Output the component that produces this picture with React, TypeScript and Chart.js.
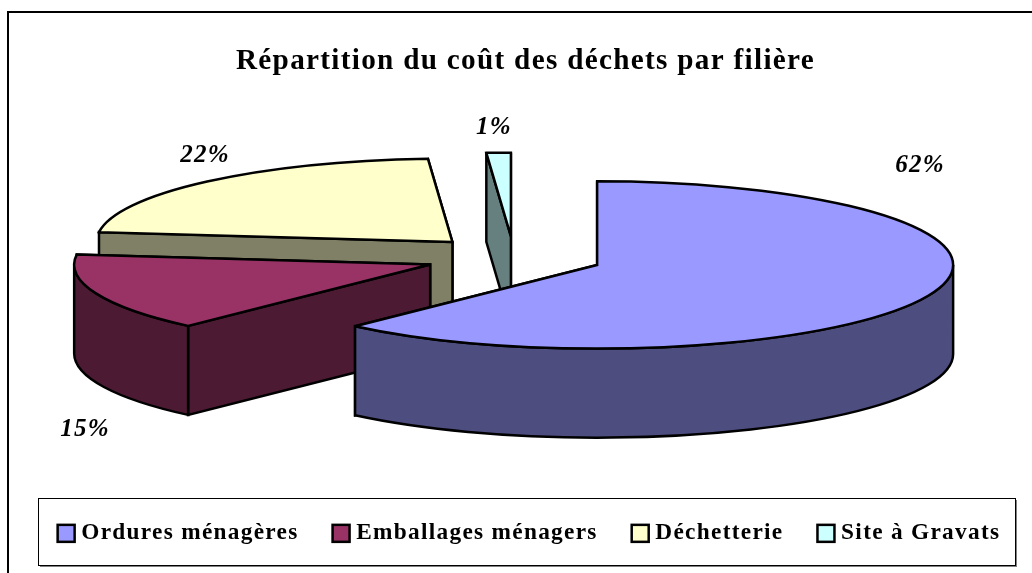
import React, { useEffect, useRef } from "react";
import { Chart, registerables } from "chart.js";

Chart.register(...registerables);

const categories = ["Ordures ménagères", "Emballages ménagers", "Déchetterie", "Site à Gravats"];
const shares = [61.9, 15, 22, 1.1];
const topColours = ["#9999FF", "#993366", "#FFFFCC", "#CCFFFF"];
const wallColours = ["#4D4D80", "#4D1A33", "#808066", "#668080"];
const chartTitle = "Répartition du coût des déchets par filière";

// drawing order, back to front
const paintOrder = [2, 3, 1, 0];
const labelAnchors = [
  { x: 920, y: 166 },
  { x: 85, y: 430 },
  { x: 205, y: 156 },
  { x: 494, y: 128 },
];

const FONT = "'Liberation Serif', 'Times New Roman', serif";
const RADIUS = 356;
const TILT = 0.235;
const DEPTH = 89;
const EXPLODE = 89.3;
const PIE_X = 514;
const PIE_Y = 257.3;
const TITLE_SHIFT = 9.5;
const LEGEND_SHIFT = 13;
const LEGEND_LIFT = 18;
const SWATCH = 17;
const TEXT_SPACING = "1.3px";
const LINE = 2.5;

const pie3d = {
  id: "pie3d",
  beforeLayout(chart: any) {
    chart.ctx.letterSpacing = TEXT_SPACING;
  },
  afterLayout(chart: any) {
    const t = chart.titleBlock;
    t.left += TITLE_SHIFT;
    t.right += TITLE_SHIFT;
    const l = chart.legend;
    l.left += LEGEND_SHIFT;
    l.right += LEGEND_SHIFT;
    l.top -= LEGEND_LIFT;
    l.bottom -= LEGEND_LIFT;
  },
  beforeDraw(chart: any) {
    const { ctx } = chart;
    ctx.save();
    ctx.strokeStyle = "#000";
    ctx.lineWidth = 2;
    ctx.strokeRect(8, 12, 3000, 3000);

    // legend frame with its thin shadow
    ctx.fillStyle = "#808080";
    ctx.fillRect(40, 500, 977, 67);
    ctx.fillStyle = "#fff";
    ctx.strokeStyle = "#000";
    ctx.lineWidth = 1;
    ctx.fillRect(38.5, 498.5, 977, 67);
    ctx.strokeRect(38.5, 498.5, 977, 67);
    ctx.restore();
    ctx.letterSpacing = TEXT_SPACING;
  },
  beforeDatasetsDraw(chart: any) {
    const { ctx } = chart;
    const arcs = chart.getDatasetMeta(0).data;
    paintOrder.forEach((i) => {
      const arc = arcs[i];
      const mid = (arc.startAngle + arc.endAngle) / 2;
      const cx = PIE_X + Math.cos(mid) * EXPLODE;
      const cy = PIE_Y + Math.sin(mid) * EXPLODE * TILT;
      const rx = arc.outerRadius;
      const ry = arc.outerRadius * TILT;
      const a0 = arc.startAngle;
      const a1 = arc.endAngle;

      ctx.save();
      ctx.lineWidth = LINE;
      ctx.strokeStyle = "#000";
      ctx.lineJoin = "miter";
      ctx.miterLimit = 2;
      ctx.fillStyle = wallColours[i];

      // radial cut faces
      [a1, a0].forEach((a) => {
        const px = cx + Math.cos(a) * rx;
        const py = cy + Math.sin(a) * ry;
        ctx.beginPath();
        ctx.moveTo(cx, cy);
        ctx.lineTo(px, py);
        ctx.lineTo(px, py + DEPTH);
        ctx.lineTo(cx, cy + DEPTH);
        ctx.closePath();
        ctx.fill();
        ctx.stroke();
      });

      // front rim
      const lo = Math.max(a0, 0);
      const hi = Math.min(a1, Math.PI);
      if (lo < hi) {
        ctx.beginPath();
        ctx.ellipse(cx, cy, rx, ry, 0, lo, hi);
        ctx.ellipse(cx, cy + DEPTH, rx, ry, 0, hi, lo, true);
        ctx.closePath();
        ctx.fill();
        ctx.stroke();
      }

      // top face: the library's arc, squashed into perspective
      ctx.save();
      ctx.translate(cx, cy);
      ctx.scale(1, TILT);
      ctx.translate(-arc.x, -arc.y);
      arc.draw(ctx);
      ctx.restore();

      ctx.beginPath();
      ctx.moveTo(cx, cy);
      ctx.ellipse(cx, cy, rx, ry, 0, a0, a1);
      ctx.closePath();
      ctx.stroke();
      ctx.restore();
    });
    return false;
  },
  afterDraw(chart: any) {
    const { ctx } = chart;
    const data = chart.data.datasets[0].data;
    const total = data.reduce((s: number, v: number) => s + v, 0);

    ctx.save();
    ctx.font = `italic bold 25px ${FONT}`;
    ctx.fillStyle = "#000";
    ctx.textAlign = "center";
    ctx.textBaseline = "middle";
    data.forEach((v: number, i: number) => {
      ctx.fillText(`${Math.round((v / total) * 100)}%`, labelAnchors[i].x, labelAnchors[i].y);
    });
    ctx.restore();

    // full-size legend swatches over the library's own boxes
    ctx.save();
    ctx.lineWidth = 2.5;
    ctx.strokeStyle = "#000";
    chart.legend.legendHitBoxes.forEach((box: any, i: number) => {
      const x = box.left;
      const y = box.top + (box.height - SWATCH) / 2;
      ctx.fillStyle = topColours[i];
      ctx.fillRect(x, y, SWATCH, SWATCH);
      ctx.strokeRect(x, y, SWATCH, SWATCH);
    });
    ctx.restore();
  },
};

export default function App() {
  const ref = useRef<HTMLCanvasElement>(null);
  useEffect(() => {
    const chart = new Chart(ref.current!, {
      type: "pie",
      data: {
        labels: categories,
        datasets: [
          {
            data: shares,
            backgroundColor: topColours,
            borderWidth: 0,
            radius: RADIUS,
          } as any,
        ],
      },
      options: {
        responsive: false,
        animation: false,
        plugins: {
          title: {
            display: true,
            text: chartTitle,
            color: "#000",
            font: { family: FONT, size: 29.2, weight: "bold" },
            padding: { top: 44, bottom: 10 },
          },
          legend: {
            display: true,
            position: "bottom",
            labels: {
              color: "#000",
              font: { family: FONT, size: 23.3, weight: "bold" },
              boxWidth: 12,
              boxHeight: 12,
              padding: 34,
            },
          },
          tooltip: { enabled: false },
        },
      } as any,
      plugins: [pie3d as any],
    });
    return () => chart.destroy();
  }, []);
  return (
    <div style={{ position: "fixed", left: 0, top: 0, width: 1032, height: 573, background: "#fff" }}>
      <canvas ref={ref} width={1032} height={573} style={{ display: "block" }} />
    </div>
  );
}
